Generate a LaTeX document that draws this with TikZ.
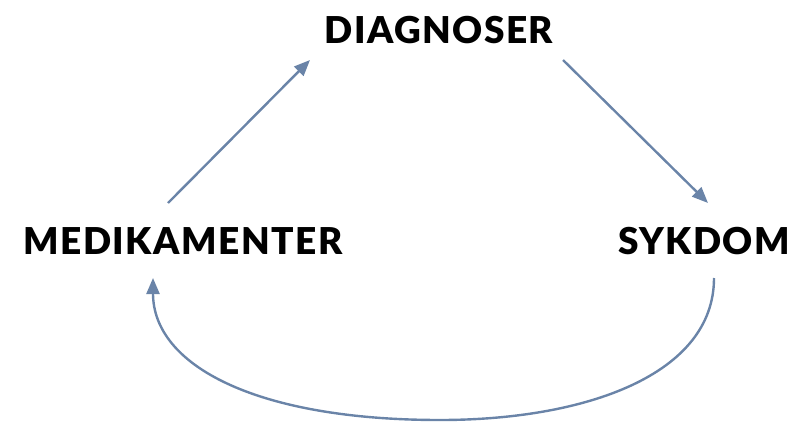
\documentclass[tikz,border=0pt]{standalone}
\usepackage{fontspec}
\setmainfont{Lato}[BoldFont={Lato Black}]
\usetikzlibrary{arrows.meta}
\definecolor{cyclecolor}{HTML}{6A84A8}
\tikzset{
  stage/.style = {font=\fontsize{37}{42}\selectfont\bfseries\addfontfeature{LetterSpace=4}, inner sep=0pt},
  flow/.style = {draw=cyclecolor, line width=2.4pt, -{Triangle[length=16pt,width=13pt]}}
}

\begin{document}
\begin{tikzpicture}[x=1pt,y=-1pt]

  \useasboundingbox (0,0) rectangle (794,447);

  \node[stage] (diag) at (439,30) {DIAGNOSER};
  \node[stage] (medi) at (183,241) {MEDIKAMENTER};
  \node[stage] (syk) at (704,241) {SYKDOM};

  \draw[flow] ([shift={(-15,-38)}]medi.center) -- ([shift={(-129,30)}]diag.center);
  \draw[flow] ([shift={(124,30)}]diag.center) -- ([shift={(4,-38)}]syk.center);

  \draw[flow] ([shift={(10,37)}]syk.center)
    .. controls (714,375) and (585,420) .. (440,420)
    .. controls (255,420) and (153,365) .. ([shift={(-30,37)}]medi.center);
\end{tikzpicture}
\end{document}
